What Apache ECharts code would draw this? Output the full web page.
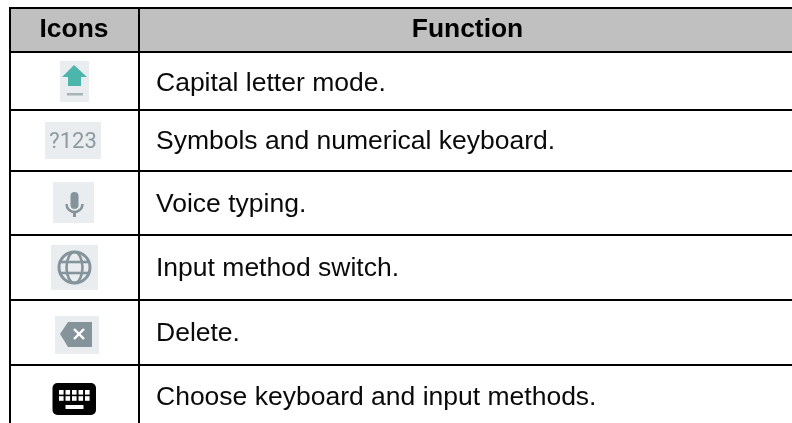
<!DOCTYPE html>
<html>
<head>
<meta charset="utf-8">
<style>html,body{margin:0;padding:0;background:#fff}#main{width:792px;height:423px}</style>
<script src="https://cdn.jsdelivr.net/npm/echarts@6/dist/echarts.min.js"></script>
</head>
<body>
<div id="main"></div>
<script>
var headers = ['Icons', 'Function'];
var iconNames = ['arrow', 'symbols', 'mic', 'globe', 'delete', 'keyboard'];
var functions = [
  'Capital letter mode.',
  'Symbols and numerical keyboard.',
  'Voice typing.',
  'Input method switch.',
  'Delete.',
  'Choose keyboard and input methods.'
];
var symbolsLabel = '?123';

// table layout, in px
var rowLines = [8, 52, 110, 171, 235, 300, 365];
var baselines = [39, 92, 150, 213, 277, 342, 406];
var columnLines = [10, 139];
var grey = '#85949a';
var tile = '#e9edf0';

function rect(x, y, w, h, fill, r) {
  return { type: 'rect', shape: { x: x, y: y, width: w, height: h, r: r || 0 }, style: { fill: fill } };
}
function poly(points, fill) {
  return { type: 'polygon', shape: { points: points }, style: { fill: fill } };
}
function line(x1, y1, x2, y2, color, width) {
  return { type: 'line', shape: { x1: x1, y1: y1, x2: x2, y2: y2 }, style: { stroke: color, lineWidth: width } };
}
// y is the text baseline; 'top' text sits about 0.83em above it
function label(x, y, text, align, size, font, color) {
  return { type: 'text', z2: 5, style: { x: x, y: y - size * 0.83, text: text, fill: color || '#000', font: font, align: align, verticalAlign: 'top' } };
}

function drawIcon(name) {
  var out = [];
  if (name === 'arrow') {
    out.push(rect(60, 61, 29, 41, tile));
    out.push(poly([[74, 65], [87, 77], [81, 77], [81, 86], [68, 86], [68, 77], [62, 77]], '#4db6ac'));
    out.push(rect(67, 93, 16, 2.5, '#a9b3b8'));
  } else if (name === 'symbols') {
    out.push(rect(45, 122, 56, 37, tile));
    out.push(label(73, 150, symbolsLabel, 'center', 22, '22px Roboto', '#8d9aa0'));
  } else if (name === 'mic') {
    out.push(rect(53, 182, 41, 41, tile));
    out.push(rect(70.5, 192, 8, 17, grey, 4));
    out.push({ type: 'arc', shape: { cx: 74.5, cy: 204, r: 8, startAngle: 0, endAngle: Math.PI }, style: { fill: 'none', stroke: grey, lineWidth: 2.5 } });
    out.push(rect(73, 212, 3, 5, grey));
  } else if (name === 'globe') {
    out.push(rect(51, 245, 47, 45, tile));
    out.push({ type: 'circle', shape: { cx: 74.5, cy: 267.5, r: 15.5 }, style: { fill: 'none', stroke: grey, lineWidth: 3 } });
    out.push({ type: 'ellipse', shape: { cx: 74.5, cy: 267.5, rx: 8, ry: 15.5 }, style: { fill: 'none', stroke: grey, lineWidth: 2.6 } });
    out.push(line(60, 262, 89, 262, grey, 2.6));
    out.push(line(60, 273, 89, 273, grey, 2.6));
  } else if (name === 'delete') {
    out.push(rect(55, 316, 44, 38, tile));
    out.push(poly([[60, 334], [68, 322], [92, 322], [92, 347], [68, 347]], grey));
    out.push(line(74, 329, 84, 339, '#fff', 2.4));
    out.push(line(84, 329, 74, 339, '#fff', 2.4));
  } else if (name === 'keyboard') {
    out.push(rect(52.5, 383, 43.5, 32, '#000', 5));
    for (var r = 0; r < 2; r++) {
      for (var c = 0; c < 5; c++) {
        out.push(rect(59 + c * 6.5, 390 + r * 6.2, 4.6, 4.6, '#fff'));
      }
    }
    out.push(rect(65.5, 405, 18, 4, '#fff'));
  }
  return out;
}

function renderRow(params, api) {
  var i = api.value(0);
  var kids = [];
  var top = api.coord([0, rowLines[i]])[1];
  var bottom = api.coord([0, i + 1 < rowLines.length ? rowLines[i + 1] : 423])[1];
  var x0 = api.coord([columnLines[0], 0])[0];
  var x1 = api.coord([columnLines[1], 0])[0];
  var base = api.coord([0, baselines[i]])[1];

  if (i === 0) {
    kids.push(rect(x0, top, 792 - x0, bottom - top, '#c0c0c0'));
    kids.push(label(74, base, headers[0], 'center', 26.4, 'bold 26.4px "Liberation Sans"'));
    kids.push(label(467.5, base, headers[1], 'center', 26.4, 'bold 26.4px "Liberation Sans"'));
  } else {
    kids = kids.concat(drawIcon(iconNames[i - 1]));
    kids.push(label(156, base, functions[i - 1], 'left', 26.5, '26.5px "Liberation Sans"', '#0a0a0a'));
  }
  // borders
  var borders = [
    rect(x0 - 1, top - 1, 792 - x0 + 1, 2, '#000'),
    rect(x0 - 1, top, 2, bottom - top, '#000'),
    rect(x1 - 1, top, 2, bottom - top, '#000')
  ];
  borders.forEach(function (b) { b.z2 = 8; kids.push(b); });
  return { type: 'group', children: kids };
}

var rows = [[0], [1], [2], [3], [4], [5], [6]];

var chart = echarts.init(document.getElementById('main'), null, { renderer: 'canvas' });
chart.setOption({
  animation: false,
  backgroundColor: '#fff',
  grid: { left: 0, right: 0, top: 0, bottom: 0 },
  xAxis: { type: 'value', min: 0, max: 792, show: false },
  yAxis: { type: 'value', min: 0, max: 423, inverse: true, show: false },
  series: [{ type: 'custom', coordinateSystem: 'cartesian2d', data: rows, renderItem: renderRow, encode: { x: 0, y: 0 }, clip: false }]
});
</script>
</body>
</html>
